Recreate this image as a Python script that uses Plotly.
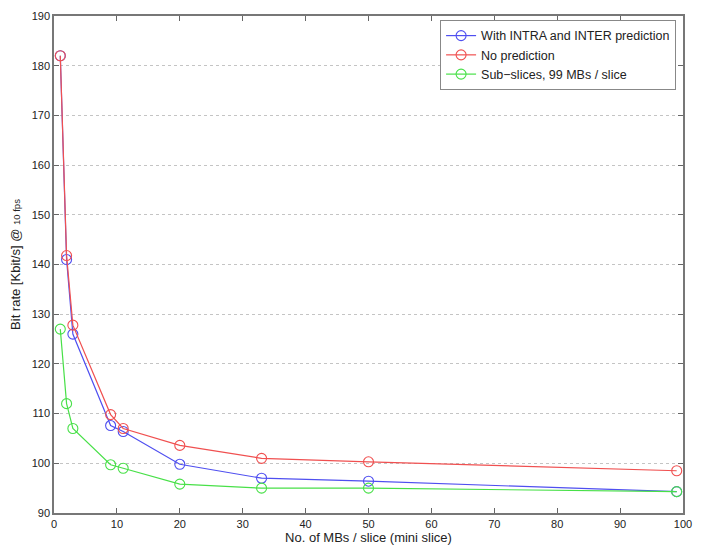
import plotly.graph_objects as go

# Slice sizes (macroblocks per slice)
mbs_per_slice = [1, 2, 3, 9, 11, 20, 33, 50, 99]

# Bit rate [Kbit/s] at 10 fps for each coding configuration
rate_intra_inter = [182.0, 141.0, 126.0, 107.6, 106.4, 99.8, 97.0, 96.4, 94.3]
rate_no_pred = [182.0, 141.8, 127.8, 109.8, 107.0, 103.6, 101.0, 100.3, 98.5]
rate_sub_slices = [127.0, 112.0, 107.0, 99.7, 99.0, 95.8, 95.0, 95.0, 94.3]

FAMILY = "Liberation Sans, Arial, sans-serif"

# (label, values, colour, legend rank); drawn in list order
series = [
    ("With INTRA and INTER prediction", rate_intra_inter, "#4f4ff0", 1),
    ("No prediction", rate_no_pred, "#f05050", 2),
    ("Sub\u2212slices, 99 MBs / slice", rate_sub_slices, "#48e048", 3),
]

x_ticks = list(range(0, 101, 10))
y_ticks = list(range(90, 191, 10))

fig = go.Figure()
for name, vals, col, rank in series:
    fig.add_trace(go.Scatter(
        x=mbs_per_slice, y=vals, name=name, mode="lines+markers", legendrank=rank,
        line=dict(color=col, width=1.2),
        marker=dict(symbol="circle-open", size=10, color=col, line=dict(width=1.1, color=col)),
    ))

font = dict(family=FAMILY, size=11, color="#222222")

fig.update_layout(
    width=702, height=553,
    margin=dict(l=54, r=10, t=13, b=40),
    paper_bgcolor="white", plot_bgcolor="white",
    font=font,
    showlegend=True,
    legend=dict(
        x=0.989, y=0.992, xanchor="right", yanchor="top",
        bgcolor="white", bordercolor="#888888", borderwidth=1,
        font=dict(family=FAMILY, size=12.5, color="#222222"),
        tracegroupgap=0, itemwidth=30,
    ),
)
fig.update_xaxes(
    range=[0, 100], tickvals=x_ticks, ticks="inside", ticklen=5, tickcolor="#666666",
    showline=True, linecolor="#777777", linewidth=1.5, mirror="ticks",
    showgrid=False, zeroline=False,
    title=dict(text="No. of MBs / slice (mini slice)", standoff=4),
)
fig.update_yaxes(
    range=[90, 190], tickvals=y_ticks, ticks="inside", ticklen=5, tickcolor="#666666",
    showline=True, linecolor="#777777", linewidth=1.5, mirror="ticks",
    showgrid=True, gridcolor="#c4c4c4", griddash="dot", gridwidth=1, zeroline=False,
    title=dict(
        text="Bit rate [Kbit/s] @ <span style='font-size:9.5px'>10 fps</span>",
        standoff=8,
    ),
)

fig.write_html("out.html")
